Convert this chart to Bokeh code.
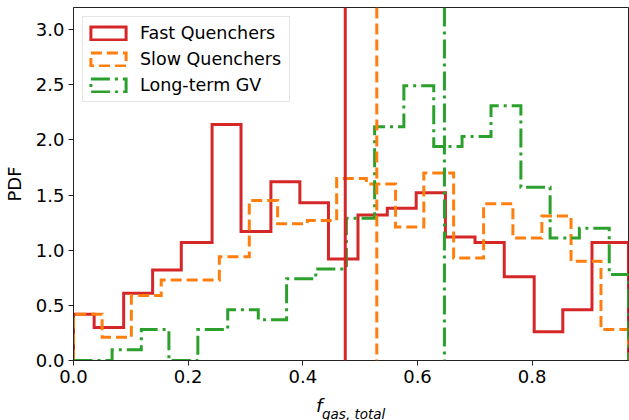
from bokeh.plotting import figure
from bokeh.layouts import column
from bokeh.models import (Span, Legend, LegendItem, Range1d, FixedTicker,
                          PrintfTickFormatter)
from bokeh.core.properties import value
from bokeh.embed import file_html
from bokeh.resources import INLINE

# ---- data ----
x_max = 0.968

fast_edges = [0.0, 0.036, 0.0875, 0.138, 0.188, 0.2417, 0.2922, 0.3443, 0.3948, 0.4447,
              0.4962, 0.5473, 0.5977, 0.6487, 0.7003, 0.7513, 0.8035, 0.8534, 0.9043, 0.968]
fast_pdf = [0.42, 0.30, 0.61, 0.82, 1.07, 2.14, 1.17, 1.62, 1.43, 0.92,
            1.32, 1.38, 1.52, 1.12, 1.07, 0.76, 0.26, 0.46, 1.07]

slow_edges = [0.0, 0.0499, 0.1009, 0.153, 0.2035, 0.2544, 0.3066, 0.356, 0.408, 0.459,
              0.5108, 0.5617, 0.611, 0.663, 0.7153, 0.7664, 0.8169, 0.8678, 0.92, 0.968]
slow_pdf = [0.42, 0.21, 0.59, 0.73, 0.73, 0.94, 1.45, 1.24, 1.27, 1.65,
            1.60, 1.21, 1.70, 0.93, 1.42, 1.11, 1.31, 0.90, 0.28]

gv_edges = [0.0, 0.0673, 0.1183, 0.1664, 0.2169, 0.269, 0.3223, 0.3717, 0.4226, 0.476,
            0.5252, 0.5762, 0.6283, 0.6777, 0.7282, 0.7803, 0.8313, 0.8823, 0.9344, 0.968]
gv_pdf = [0.0, 0.097, 0.28, 0.0, 0.28, 0.46, 0.37, 0.74, 0.83, 1.29,
          2.12, 2.49, 1.94, 2.03, 2.31, 1.57, 1.11, 1.20, 0.78]

medians = [0.474, 0.529, 0.647]
labels = ["Fast Quenchers", "Slow Quenchers", "Long-term GV"]
colors = ["#d62728", "#ff7f0e", "#2ca02c"]
dashes = ["solid", "11 5", "19 5 3 5"]

x_ticks = [0.0, 0.2, 0.4, 0.6, 0.8]
y_ticks = [0.0, 0.5, 1.0, 1.5, 2.0, 2.5, 3.0]

FONT = "DejaVu Sans"


def step_path(edges, heights):
    xs = [edges[0]]
    ys = [0.0]
    for i, h in enumerate(heights):
        xs += [edges[i], edges[i + 1]]
        ys += [h, h]
    xs.append(edges[-1])
    ys.append(0.0)
    return xs, ys


p = figure(width=629, height=390, x_range=Range1d(0, x_max), y_range=Range1d(0, 3.2),
           output_backend="svg", toolbar_location=None,
           min_border_left=72, min_border_right=1, min_border_top=7, min_border_bottom=30)
p.xgrid.visible = False
p.ygrid.visible = False
p.outline_line_color = "#222222"
p.outline_line_width = 1
p.background_fill_color = "white"

for ax, ticks in ((p.xaxis[0], x_ticks), (p.yaxis[0], y_ticks)):
    ax.ticker = FixedTicker(ticks=ticks)
    ax.formatter = PrintfTickFormatter(format="%.1f")
    ax.major_label_text_font = FONT
    ax.major_label_text_font_size = "18px"
    ax.major_label_text_color = "black"
    ax.major_tick_out = 5
    ax.major_tick_in = 0
    ax.minor_tick_out = 0
    ax.minor_tick_in = 0
    ax.major_label_standoff = 4
    ax.axis_line_color = "#222222"
    ax.major_tick_line_color = "#222222"

p.yaxis.axis_label = "PDF"
p.yaxis.axis_label_text_font = FONT
p.yaxis.axis_label_text_font_size = "18px"
p.yaxis.axis_label_text_font_style = "normal"
p.yaxis.axis_label_text_color = "black"
p.yaxis.axis_label_standoff = 8

series = [(fast_edges, fast_pdf), (slow_edges, slow_pdf), (gv_edges, gv_pdf)]
items = []
for (edges, pdf), lab, c, d, med in zip(series, labels, colors, dashes, medians):
    xs, ys = step_path(edges, pdf)
    p.line(xs, ys, line_color=c, line_width=3, line_dash=d, line_join="miter")
    p.add_layout(Span(location=med, dimension="height", line_color=c, line_width=3,
                      line_dash=d))
    # hidden bar renderer: only used to draw the rectangle in the legend
    r = p.quad(left=edges[:-1], right=edges[1:], top=pdf, bottom=0, fill_color=None,
               line_color=c, line_width=3, line_dash=d, line_join="miter")
    r.visible = False
    items.append(LegendItem(label=lab, renderers=[r]))

legend = Legend(items=items, location="top_left", margin=9, padding=3, spacing=0,
                glyph_width=44, glyph_height=16, label_height=26, label_width=146,
                label_standoff=10, label_text_font=FONT, label_text_font_size="17.5px",
                label_text_color="black", border_line_color="#cccccc",
                border_line_width=1, background_fill_alpha=0.8,
                inactive_fill_alpha=0.0)
p.add_layout(legend)

# x-axis label strip (f with subscript), sharing the x scale
q = figure(width=629, height=30, x_range=p.x_range, y_range=Range1d(0, 30),
           output_backend="svg", toolbar_location=None, x_axis_location=None,
           y_axis_location=None, min_border_left=72, min_border_right=1,
           min_border_top=0, min_border_bottom=0)
q.xgrid.visible = False
q.ygrid.visible = False
q.outline_line_color = None
x_mid = x_max / 2
q.text(x=[x_mid], y=[15], text=["f"], x_offset=-35, text_align="left",
       text_baseline="alphabetic", text_font=value(FONT), text_font_style="italic",
       text_font_size="18.5px", text_color="black")
q.text(x=[x_mid], y=[7], text=["gas, total"], x_offset=-29, text_align="left",
       text_baseline="alphabetic", text_font=value(FONT), text_font_style="italic",
       text_font_size="13.5px", text_color="black")

layout = column(p, q, spacing=0)
open("out.html", "w").write(file_html(layout, INLINE))
